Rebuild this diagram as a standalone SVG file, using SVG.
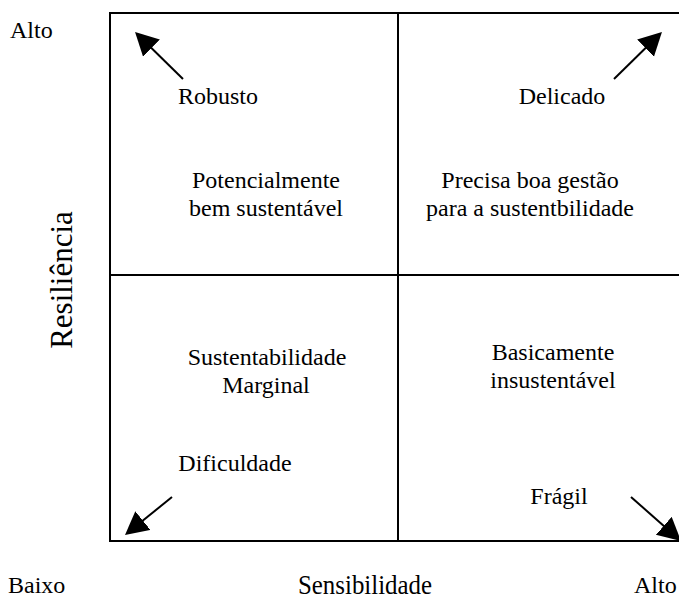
<svg xmlns="http://www.w3.org/2000/svg" width="679" height="599" viewBox="0 0 679 599">
<style>
text{font-family:'Liberation Serif','DejaVu Serif','Noto Serif',Times,serif;fill:#000;}
.t{font-size:24px;text-anchor:middle;}
.ax{font-size:24px;}
.big{font-size:28px;}
.vert{font-size:31px;text-anchor:middle;}
.ln{stroke:#000;stroke-width:2;fill:none;}
.arr{stroke:#000;stroke-width:2;fill:none;marker-end:url(#ah);}
</style>
<defs>
<marker id="ah" markerUnits="userSpaceOnUse" markerWidth="26" markerHeight="26" refX="19" refY="12" orient="auto">
<path d="M0,0 L23,12 L0,24 Z" fill="#000"/>
</marker>
</defs>
<rect width="679" height="599" fill="#fff"/>
<g id="grid">
<rect class="ln" x="110" y="13" width="578" height="528"/>
<line class="ln" x1="398" y1="13" x2="398" y2="541"/>
<line class="ln" x1="110" y1="275" x2="688" y2="275"/>
</g>
<g id="connectors">
<line class="arr" x1="183" y1="79" x2="137.9" y2="34.8"/>
<line class="arr" x1="614" y1="79" x2="659.1" y2="34.8"/>
<line class="arr" x1="172" y1="497" x2="128.1" y2="532.5"/>
<line class="arr" x1="631" y1="497" x2="678" y2="538.4"/>
</g>
<g id="q-tl">
<text class="t" x="218" y="104">Robusto</text>
<text class="t" x="266" y="188">Potencialmente</text>
<text class="t" x="266" y="216">bem sustentável</text>
</g>
<g id="q-tr">
<text class="t" x="562" y="104">Delicado</text>
<text class="t" x="530" y="188">Precisa boa gestão</text>
<text class="t" x="530" y="216">para a sustentbilidade</text>
</g>
<g id="q-bl">
<text class="t" x="267" y="365">Sustentabilidade</text>
<text class="t" x="266" y="393">Marginal</text>
<text class="t" x="235" y="471">Dificuldade</text>
</g>
<g id="q-br">
<text class="t" x="553" y="360">Basicamente</text>
<text class="t" x="553" y="388">insustentável</text>
<text class="t" x="559" y="504">Frágil</text>
</g>
<g id="axes">
<text class="ax" x="10" y="38">Alto</text>
<text class="ax" x="8" y="593">Baixo</text>
<text class="ax" x="634" y="593">Alto</text>
<text class="big" x="298" y="594" textLength="134" lengthAdjust="spacingAndGlyphs">Sensibilidade</text>
<text class="vert" transform="translate(72,280) rotate(-90)" x="0" y="0">Resiliência</text>
</g>
</svg>
